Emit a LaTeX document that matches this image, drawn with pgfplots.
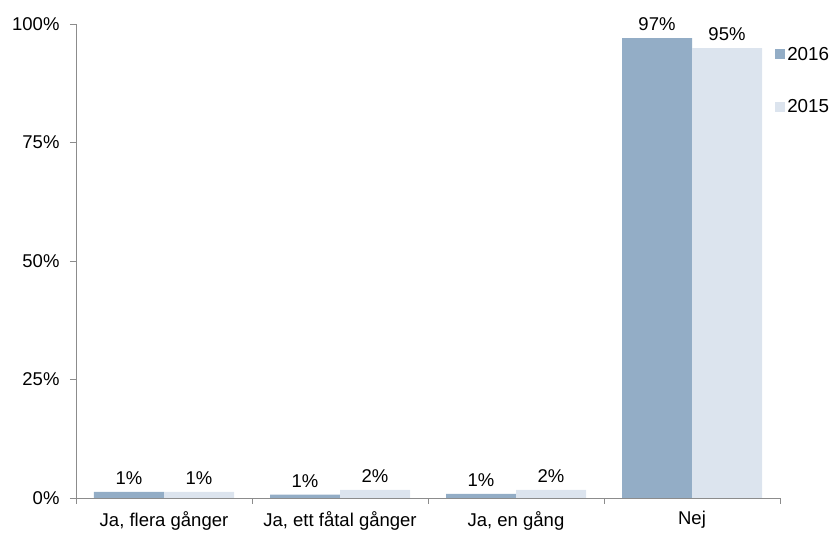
\documentclass[border=0pt]{standalone}
\usepackage{pgfplots}
\pgfplotsset{compat=1.18}
\usepackage{fontspec}
\setmainfont{Liberation Sans}
\definecolor{cA}{HTML}{93ADC6}
\definecolor{cB}{HTML}{DCE4EE}
\definecolor{axgrey}{HTML}{8C8C8C}
\begin{document}
\begin{tikzpicture}
\begin{axis}[
  scale only axis=true,
  width=704pt, height=474pt,
  at={(0,0)}, anchor=south west,
  ybar=0pt, bar width=70pt,
  xmin=-0.5, xmax=3.5,
  ymin=0, ymax=100,
  axis x line*=bottom, axis y line*=left,
  axis line style={axgrey, line width=0.8pt},
  xtick={0,1,2,3},
  xticklabels={{Ja, flera gånger},{Ja, ett fåtal gånger},{Ja, en gång},{Nej}},
  minor xtick={-0.5,0.5,1.5,2.5,3.5},
  major x tick style={draw=none},
  minor x tick style={axgrey, line width=0.8pt},
  ytick={0,25,50,75,100},
  yticklabel={\pgfmathprintnumber{\tick}\%},
  y tick style={axgrey, line width=0.8pt},
  tick align=outside,
  major tick length=6pt, minor tick length=6pt,
  /pgf/number format/assume math mode=true,
  tick label style={font=\fontsize{18.5}{22}\selectfont, black},
  yticklabel style={xshift=-7pt},
  xticklabel style={yshift=-4pt},
  nodes near coords,
  point meta=explicit symbolic,
  every node near coord/.append style={font=\fontsize{18.5}{22}\selectfont, black, yshift=4pt},
  legend style={draw=none, fill=none, at={(0.993,0.956)}, anchor=north west,
    font=\fontsize{18.8}{22}\selectfont, row sep=34pt, inner sep=0pt,
    /tikz/every even column/.append style={column sep=0pt}},
  legend cell align=left,
  legend image code/.code={\fill[#1,draw=none] (0pt,-5pt) rectangle (10pt,5pt);},
  clip=false,
]
\addplot[fill=cA, draw=none] coordinates {(0,1.3) [1\%] (1,0.7) [1\%] (2,0.85) [1\%] (3,97.0) [97\%]};
\addplot[fill=cB, draw=none] coordinates {(0,1.3) [1\%] (1,1.7) [2\%] (2,1.7) [2\%] (3,94.9) [95\%]};
\legend{2016,2015}
\end{axis}
\pgfresetboundingbox
\path (-76pt,-37pt) rectangle (760pt,498pt);
\end{tikzpicture}
\end{document}
